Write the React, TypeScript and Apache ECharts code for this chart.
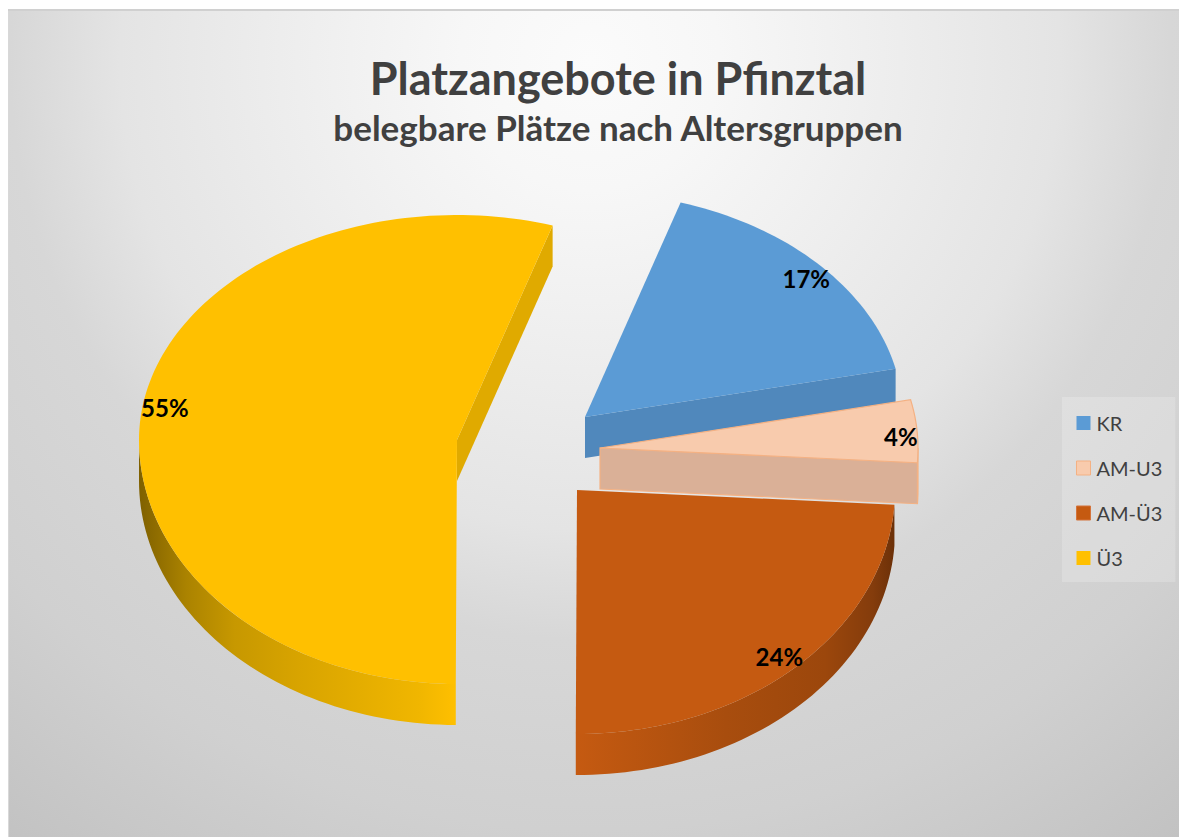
import React, { useEffect, useRef } from "react";
import * as echarts from "echarts";

const categories = ["KR", "AM-U3", "AM-Ü3", "Ü3"];
const values = [16.7, 4.4, 24.1, 54.8];
const titleText = "Platzangebote in Pfinztal";
const subtitleText = "belegbare Plätze nach Altersgruppen";

const topColors = ["#5b9bd5", "#f8cbad", "#c55a11", "#ffc000"];
const cutColors = ["#5088bc", "#dab097", "#a84d0e", "#e0aa00"];
const strokeColors = ["none", "#f4b183", "none", "none"];
const apexes = [[585, 417], [600, 448], [577, 490], [457, 440]];
const labelNudges = [[3, 3], [6, 5], [0, 1], [0, 0]];
const wallStops: any[] = [
  null,
  null,
  { x: 577, x2: 895, stops: [[0, "#c55a11"], [0.47, "#a84d0e"], [0.78, "#9c470c"], [0.93, "#843c0c"], [1, "#6b3008"]] },
  { x: 139, x2: 457, stops: [[0, "#7f6000"], [0.15, "#ab8300"], [0.3, "#c79800"], [0.5, "#d8a400"], [0.88, "#f0b600"], [1, "#ffc000"]] },
];

const RX = 318, RY_TOP = 225, RY_BOTTOM = 244, DEPTH = 41, START_DEG = 17.5;
const LABEL_R = 0.93;
const total = values.reduce((a, b) => a + b, 0);
const rad = (d: number) => (d * Math.PI) / 180;

function rimPoint(ax: number, ay: number, deg: number, k = 1, drop = 0) {
  const c = Math.cos(rad(deg));
  return [ax + k * RX * Math.sin(rad(deg)), ay + drop - k * (c > 0 ? RY_TOP : RY_BOTTOM) * c];
}
function arc(ax: number, ay: number, a: number, b: number, drop = 0) {
  const n = Math.max(2, Math.ceil(Math.abs(b - a) / 1.5));
  const pts: number[][] = [];
  for (let i = 0; i <= n; i++) pts.push(rimPoint(ax, ay, a + ((b - a) * i) / n, 1, drop));
  return pts;
}

function makeRender(idx: number) {
  const before = values.slice(0, idx).reduce((a, b) => a + b, 0);
  return (_: any, api: any) => {
    const v = api.value(0) as number;
    const a = START_DEG + (before / total) * 360;
    const b = a + (v / total) * 360;
    const [ax, ay] = apexes[idx];
    const stroke = strokeColors[idx];
    const lineStyle = stroke === "none" ? {} : { stroke, lineWidth: 1.2 };
    const children: any[] = [];

    // outer wall: only the front part of the rim, 90..270 degrees
    const w1 = Math.max(a, 90), w2 = Math.min(b, 270);
    if (w2 > w1) {
      const g = wallStops[idx];
      const fill = g
        ? {
            type: "linear", global: true, x: g.x, y: 0, x2: g.x2, y2: 0,
            colorStops: g.stops.map((s: any) => ({ offset: s[0], color: s[1] })),
          }
        : cutColors[idx];
      children.push({
        type: "polygon",
        shape: { points: [...arc(ax, ay, w1, w2), ...arc(ax, ay, w2, w1, DEPTH)] },
        style: { fill, ...lineStyle },
      });
    }
    // cut face at the slice's closing edge, when it faces the viewer
    if (Math.sin(rad(b)) > 0.01) {
      const rim = rimPoint(ax, ay, b);
      children.push({
        type: "polygon",
        shape: { points: [[ax, ay], rim, [rim[0], rim[1] + DEPTH], [ax, ay + DEPTH]] },
        style: { fill: cutColors[idx], ...lineStyle },
      });
    }
    // top face
    children.push({
      type: "polygon",
      shape: { points: [[ax, ay], ...arc(ax, ay, a, b)] },
      style: { fill: topColors[idx], ...lineStyle },
    });
    const lp = rimPoint(ax, ay, (a + b) / 2, LABEL_R);
    children.push({
      type: "text",
      x: lp[0] + labelNudges[idx][0],
      y: lp[1] + labelNudges[idx][1],
      style: {
        text: Math.round((v / total) * 100) + "%",
        font: 'bold 24px "Lato"',
        fill: "#000000",
        align: "center",
        verticalAlign: "middle",
      },
    });
    return { type: "group", children };
  };
}

export default function App() {
  const ref = useRef<HTMLDivElement>(null);
  useEffect(() => {
    document.body.style.margin = "0";
    const chart = echarts.init(ref.current!, null, { renderer: "svg" });
    chart.setOption({
      animation: false,
      backgroundColor: "#ffffff",
      graphic: [
        {
          type: "rect", z: -10, silent: true,
          shape: { x: 8, y: 11, width: 1171, height: 826 },
          style: {
            fill: {
              type: "radial", global: true, x: 590, y: 60, r: 975,
              colorStops: [
                { offset: 0, color: "#fbfbfb" },
                { offset: 0.133, color: "#f7f7f7" },
                { offset: 0.246, color: "#f1f1f1" },
                { offset: 0.482, color: "#e4e4e4" },
                { offset: 0.595, color: "#d7d7d7" },
                { offset: 0.68, color: "#d4d4d4" },
                { offset: 0.79, color: "#d0d0d0" },
                { offset: 1, color: "#c2c2c2" },
              ],
            },
          },
        },
        {
          type: "line", z: -8, silent: true,
          shape: { x1: 8, y1: 10, x2: 1179, y2: 10 },
          style: { stroke: "#d0d0d0", lineWidth: 2 },
        },
        {
          type: "line", z: -8, silent: true,
          shape: { x1: 8.5, y1: 11, x2: 8.5, y2: 837 },
          style: { stroke: "#d8d8d8", lineWidth: 1 },
        },
      ],
      title: [
        {
          text: titleText,
          left: 613,
          top: 50,
          textAlign: "center",
          textStyle: { fontFamily: "Lato", fontWeight: "bold", fontSize: 45, color: "#404040" },
        },
        {
          text: subtitleText,
          left: 613,
          top: 104,
          textAlign: "center",
          textStyle: { fontFamily: "Lato", fontWeight: "bold", fontSize: 35, color: "#404040" },
        },
      ],
      legend: {
        orient: "vertical",
        left: 1062,
        top: 397,
        padding: [16, 13, 14, 14],
        itemWidth: 14,
        itemHeight: 14,
        itemGap: 25,
        backgroundColor: "rgba(255,255,255,0.2)",
        textStyle: { fontFamily: "Lato", fontSize: 20, color: "#404040", padding: [0, 0, 0, 1] },
        data: categories.map((name, i) => ({
          name,
          icon: "rect",
          itemStyle: {
            color: topColors[i],
            borderColor: i === 1 ? "#f4b183" : i === 2 ? "#d4733a" : topColors[i],
            borderWidth: i === 1 || i === 2 ? 1 : 0,
          },
        })),
      },
      series: categories.map((name, i) => ({
        type: "custom",
        name,
        coordinateSystem: "none",
        z: i === 3 ? 1 : i + 2,
        itemStyle: { color: topColors[i] },
        renderItem: makeRender(i),
        data: [[values[i]]],
      })),
    });
    return () => chart.dispose();
  }, []);
  return <div ref={ref} style={{ width: 1179, height: 837 }} />;
}
